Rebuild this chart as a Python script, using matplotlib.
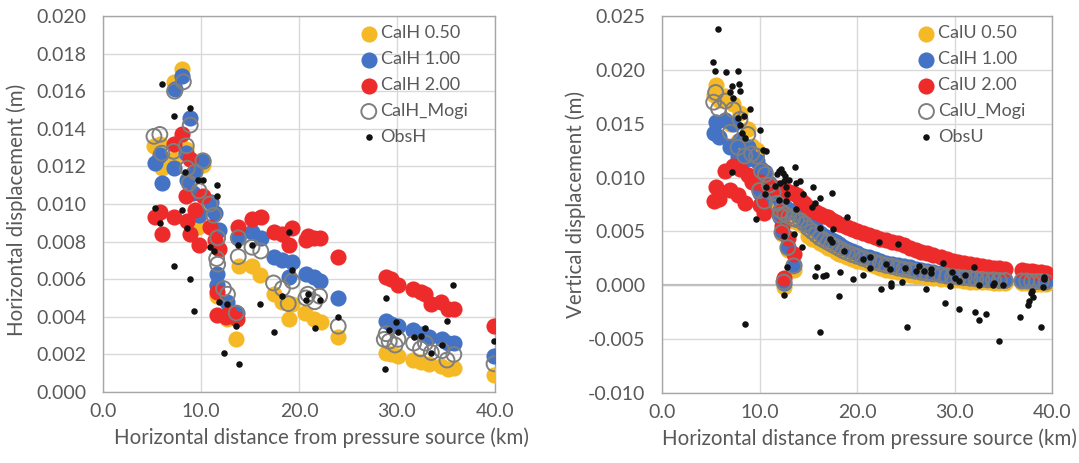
import numpy as np
import matplotlib
matplotlib.use("Agg")
import matplotlib.pyplot as plt

plt.rcParams['font.family'] = ['Lato', 'DejaVu Sans']

# ---- horizontal displacement (values in mm) ----
h050_x = [5.2, 5.8, 6.0, 7.2, 7.2, 8.1, 8.5, 9.7, 10.2, 10.7,
          11.6, 11.6, 12.7, 13.6, 13.9, 15.2, 16.0, 17.4, 18.3, 19.0,
          19.3, 20.6, 21.5, 22.2, 24.0, 28.9, 29.4, 30.1, 31.6, 32.4,
          33.3, 34.5, 35.2, 35.8, 39.9]
h050_y = [13.1, 13.2, 11.9, 12.4, 16.5, 17.2, 12.9, 8.8, 12.1, 9.8,
          5.7, 5.1, 3.9, 2.8, 6.7, 6.7, 6.2, 5.2, 4.8, 3.9,
          4.7, 4.2, 3.9, 3.7, 2.9, 2.1, 2.0, 1.9, 1.7, 1.6,
          1.5, 1.4, 1.2, 1.3, 0.9]

h100_x = [5.3, 5.8, 6.0, 7.2, 7.3, 8.1, 8.9, 8.5, 8.6, 9.2,
          9.3, 9.8, 10.2, 11.0, 11.4, 11.8, 11.6, 11.6, 12.7, 13.7,
          13.8, 15.2, 16.1, 17.4, 18.3, 19.3, 19.0, 20.7, 21.5, 22.1,
          24.0, 28.9, 29.4, 30.1, 31.6, 32.5, 33.3, 34.6, 35.2, 35.8,
          39.9]
h100_y = [12.2, 12.6, 11.1, 11.9, 16.1, 16.8, 14.6, 12.7, 11.3, 10.6,
          11.7, 9.4, 12.3, 10.1, 9.5, 8.6, 6.3, 5.7, 4.8, 4.2,
          8.2, 8.5, 8.2, 7.2, 7.0, 6.9, 6.1, 6.3, 6.1, 5.9,
          5.0, 3.8, 3.6, 3.5, 3.3, 3.1, 2.9, 2.8, 2.6, 2.6,
          1.9]

h200_x = [5.3, 5.8, 6.0, 7.2, 7.2, 8.1, 8.5, 8.6, 8.9, 8.9,
          9.4, 9.8, 10.2, 10.9, 11.4, 11.8, 11.6, 11.6, 12.5, 12.9,
          13.7, 13.8, 15.2, 16.1, 17.4, 18.3, 19.0, 19.3, 20.7, 20.9,
          21.5, 22.1, 24.0, 28.9, 29.4, 30.1, 31.6, 32.4, 32.9, 33.5,
          34.5, 35.2, 35.8, 39.9]
h200_y = [9.3, 9.6, 8.4, 9.3, 13.2, 13.7, 10.4, 9.1, 8.4, 12.4,
          9.7, 7.8, 10.4, 8.8, 8.1, 7.6, 5.3, 4.1, 4.0, 4.2,
          3.9, 8.8, 9.2, 9.3, 8.5, 8.4, 7.8, 8.7, 8.1, 8.3,
          8.2, 8.2, 7.2, 6.1, 6.0, 5.7, 5.5, 5.3, 5.2, 4.7,
          4.8, 4.4, 4.4, 3.5]

hmogi_x = [5.2, 5.8, 6.0, 7.3, 7.2, 8.2, 8.9, 8.5, 8.6, 8.8,
           9.4, 9.8, 10.2, 10.9, 11.3, 11.7, 11.6, 11.7, 12.3, 12.7,
           13.6, 13.8, 13.8, 15.2, 16.1, 17.4, 18.3, 18.9, 19.3, 20.7,
           20.9, 21.6, 22.1, 24.0, 28.9, 28.7, 29.2, 29.8, 30.1, 31.7,
           32.4, 32.9, 33.5, 34.6, 35.1, 35.8, 39.9]
hmogi_y = [13.6, 13.7, 12.7, 16.0, 12.8, 16.5, 14.2, 13.1, 11.9, 11.1,
           11.7, 10.7, 12.3, 10.0, 9.4, 8.2, 7.1, 6.8, 5.5, 5.2,
           4.2, 8.2, 7.2, 7.7, 7.5, 5.8, 5.5, 4.7, 5.9, 5.0,
           5.2, 4.8, 5.1, 3.5, 3.1, 2.8, 2.7, 2.5, 2.8, 2.6,
           2.3, 2.6, 2.1, 2.2, 1.7, 2.0, 1.5]

obsh_x = [6.0, 7.2, 8.9, 8.4, 9.7, 10.2, 11.6, 11.6, 5.3, 5.8,
          8.1, 8.6, 7.2, 8.9, 9.3, 10.9, 11.3, 11.8, 12.7, 12.3,
          13.6, 13.9, 13.8, 15.2, 16.0, 17.4, 18.3, 19.0, 19.3, 20.7,
          20.9, 21.6, 22.1, 24.0, 28.9, 28.8, 29.2, 29.9, 30.1, 31.7,
          32.4, 32.9, 33.5, 34.6, 35.1, 35.7, 39.9]
obsh_y = [16.4, 14.7, 15.1, 11.7, 11.3, 11.3, 11.0, 10.4, 9.8, 9.0,
          9.7, 8.7, 6.7, 6.0, 4.3, 7.7, 7.5, 4.8, 4.7, 2.1,
          3.5, 1.5, 7.8, 7.8, 4.7, 3.2, 5.1, 8.5, 6.5, 4.9,
          5.2, 3.4, 4.9, 4.0, 5.0, 1.2, 3.3, 3.7, 3.2, 2.9,
          3.0, 3.4, 2.1, 2.5, 3.8, 5.7, 2.7]

# ---- vertical displacement (values in mm) ----
u_dist = [5.3, 5.5, 5.8, 6.5, 7.0, 7.3, 7.8, 8.0, 8.5, 8.8, 9.2, 9.7, 10.0, 10.5,
          12.1, 12.3, 12.9, 13.5, 12.5,
          10.2, 10.6, 11.0, 11.4, 11.8, 12.2, 12.6, 13.0, 13.4, 13.8,
          14.2, 14.6, 15.0, 15.4, 15.8, 16.2, 16.6, 17.0, 17.4, 17.8,
          18.2, 18.6, 19.0, 19.5, 20.0, 20.6, 21.2, 21.8, 22.4, 23.0,
          23.6, 24.2, 24.8, 25.4, 26.0, 26.6, 27.2, 27.8, 28.6, 29.2,
          29.8, 30.4, 31.0, 31.6, 32.2, 32.8, 33.4, 34.0, 34.6, 35.2,
          36.9, 37.4, 37.9, 38.4, 38.9, 39.4]
u050 = [17.7, 18.6, 17.2, 17.6, 15.0, 16.8, 13.4, 16.0, 12.6, 14.5, 12.9, 12.6, 9.4, 8.0,
        6.4, 4.8, 3.3, 1.4, -0.2,
        10.0, 9.6, 9.0, 8.2, 7.4, 6.8, 6.4, 6.2, 6.0, 5.9,
        5.7, 5.5, 4.6, 4.3, 4.2, 3.9, 3.7, 3.5, 3.35, 3.1,
        2.95, 2.8, 2.6, 2.45, 2.3, 2.15, 1.95, 1.75, 1.6, 1.45,
        1.35, 1.2, 1.1, 1.0, 0.9, 0.85, 0.75, 0.7, 0.6, 0.55,
        0.5, 0.45, 0.4, 0.35, 0.35, 0.3, 0.3, 0.25, 0.25, 0.2,
        0.2, 0.2, 0.15, 0.15, 0.15, 0.15]
u100 = [14.1, 15.2, 13.8, 15.3, 12.8, 15.0, 11.9, 13.5, 11.6, 12.8, 11.8, 11.5, 8.6, 7.6,
        6.3, 5.0, 3.6, 1.9, 0.2,
        10.8, 10.5, 9.5, 8.8, 8.3, 7.7, 7.3, 7.0, 6.8, 6.6,
        6.4, 6.1, 5.7, 5.4, 5.2, 4.9, 4.6, 4.4, 4.2, 4.0,
        3.8, 3.6, 3.4, 3.2, 3.0, 2.7, 2.6, 2.4, 2.3, 2.1,
        2.0, 1.85, 1.75, 1.7, 1.55, 1.45, 1.35, 1.25, 1.1, 1.0,
        0.95, 0.85, 0.8, 0.75, 0.7, 0.65, 0.6, 0.55, 0.5, 0.5,
        0.45, 0.45, 0.4, 0.4, 0.4, 0.4]
u200 = [7.8, 9.1, 8.0, 10.6, 8.8, 11.1, 8.4, 10.8, 7.6, 10.2, 9.6, 9.6, 7.5, 6.7,
        7.0, 5.5, 4.4, 2.9, 0.7,
        9.6, 9.3, 9.2, 9.0, 9.0, 8.9, 8.8, 8.7, 8.6, 8.4,
        8.0, 7.6, 7.3, 7.0, 6.8, 6.6, 6.4, 6.3, 6.1, 5.9,
        5.7, 5.6, 5.4, 5.2, 5.0, 4.9, 4.7, 4.5, 4.3, 4.2,
        4.0, 3.9, 3.7, 3.5, 3.3, 3.1, 3.0, 2.8, 2.6, 2.4,
        2.3, 2.2, 2.1, 2.0, 1.9, 1.8, 1.7, 1.65, 1.6, 1.5,
        1.4, 1.35, 1.3, 1.25, 1.2, 1.15]
umogi = [17.0, 17.9, 16.4, 17.1, 14.2, 16.3, 12.8, 15.4, 12.0, 14.0, 12.2, 12.0, 8.8, 7.8,
         6.5, 4.9, 3.5, 1.8, 0.3,
         10.6, 10.3, 9.3, 8.6, 7.6, 6.9, 6.6, 6.4, 6.2, 6.1,
         6.0, 5.7, 5.3, 5.0, 4.7, 4.4, 4.2, 4.0, 3.8, 3.6,
         3.4, 3.2, 3.05, 2.85, 2.7, 2.5, 2.3, 2.15, 2.0, 1.85,
         1.75, 1.6, 1.5, 1.4, 1.3, 1.2, 1.1, 1.05, 0.95, 0.85,
         0.8, 0.75, 0.7, 0.65, 0.6, 0.55, 0.5, 0.5, 0.45, 0.45,
         0.4, 0.4, 0.35, 0.35, 0.35, 0.3]

obsu_x = [5.2, 5.45, 5.7, 6.6, 7.0, 7.2, 7.3, 7.8, 7.9, 8.0,
          7.8, 8.4, 9.0, 8.0, 8.2, 8.5, 10.1, 10.4, 10.7, 7.2,
          9.6, 8.5,
          10.6, 10.7, 11.6, 11.8, 12.0, 12.2, 12.4, 12.6, 12.1, 12.5,
          12.7, 12.8, 13.0, 13.6, 13.7, 14.2, 13.7, 12.0, 12.7, 12.5,
          13.5, 12.8, 12.5, 14.4, 14.5,
          15.5, 15.4, 15.7, 16.2, 17.4, 16.2, 17.5, 17.2, 17.4, 15.9,
          15.7, 16.5, 16.8, 16.2, 18.2, 18.3, 19.0, 18.7, 19.6, 20.6,
          20.6, 21.3, 21.3, 22.3, 22.5, 23.0, 23.4, 23.5, 23.5, 24.2,
          24.6, 24.9, 25.1,
          26.0, 26.4, 26.9, 27.1, 27.6, 27.6, 28.8, 29.0, 29.5, 29.7,
          30.1, 30.5, 30.5, 31.1, 32.0, 32.1, 32.5, 32.5, 33.2, 33.9,
          34.1, 34.6, 35.0, 36.7, 37.5, 37.6, 37.8, 37.9, 38.0, 38.9,
          39.1, 39.2, 39.2]
obsu_y = [20.7, 19.9, 23.8, 19.8, 17.9, 18.5, 17.4, 19.9, 18.7, 18.0,
          15.5, 15.7, 16.4, 14.9, 14.1, 13.7, 14.4, 12.6, 12.5, 10.5,
          6.2, -3.6,
          8.5, 9.1, 9.2, 10.3, 10.6, 10.8, 10.4, 10.1, 9.5, 9.7,
          9.1, 8.5, 9.8, 11.0, 9.5, 9.7, 7.1, 7.9, 7.8, 4.6,
          4.8, 1.7, -0.9, 3.6, 8.5,
          9.1, 7.3, 7.6, 8.1, 8.6, 5.3, 5.2, 4.3, 4.0, 1.7,
          0.9, 0.9, 1.0, -4.3, -1.0, 1.2, 6.3, 3.2, 0.6, 2.4,
          1.0, 2.6, 1.6, 4.0, -0.3, 2.0, 1.5, -0.1, 0.2, 3.8,
          0.3, 1.6, -3.9,
          1.3, 1.8, 1.3, -0.3, 1.5, 1.1, 2.1, -1.6, -0.1, 1.2,
          0.7, 0.4, -2.2, 1.0, 1.7, -2.5, -3.2, 0.0, -2.7, 0.0,
          0.2, -5.2, 0.0, -2.9, -1.8, -1.5, -0.7, -0.5, -1.1, -3.9,
          -0.2, 0.6, 0.8]

YEL = '#F6B926'
BLU = '#4472C4'
RED = '#EE2B2B'
GRY = '#7F7F7F'
TXT = '#595959'
MS = 135     # filled marker area
OBS = 22


def mm(v):
    return np.array(v) / 1000.0


def style_axes(ax, ylim, yticks, yfmt):
    ax.set_xlim(0, 40)
    ax.set_ylim(*ylim)
    ax.set_xticks(np.arange(0, 41, 10))
    ax.set_xticklabels(['%.1f' % t for t in np.arange(0, 41, 10)])
    ax.set_yticks(yticks)
    ax.set_yticklabels([yfmt % t for t in yticks])
    ax.grid(True, color='#d9d9d9', lw=1.0)
    ax.set_axisbelow(True)
    ax.tick_params(length=0, labelsize=14, labelcolor=TXT)
    ax.tick_params(axis='x', pad=8)
    ax.tick_params(axis='y', pad=12)
    for s in ax.spines.values():
        s.set_color('#a6a6a6')
        s.set_linewidth(1.0)
    ax.set_xlabel('Horizontal distance from pressure source (km)',
                  fontsize=14.8, color=TXT)


def add_legend(ax, labels):
    ax.legend(labels, loc='upper left', bbox_to_anchor=(0.655, 0.975),
              frameon=False, fontsize=13, labelcolor=TXT, scatterpoints=1,
              handlelength=1.0, handletextpad=0.15, labelspacing=0.55,
              borderpad=0, borderaxespad=0)


fig = plt.figure(figsize=(10.79, 4.63), dpi=100)

# left: horizontal displacement
ax1 = fig.add_axes([103 / 1079, 71 / 463, 392 / 1079, 376 / 463])
ax1.scatter(h050_x, mm(h050_y), s=MS, color=YEL, lw=0, zorder=3)
ax1.scatter(h100_x, mm(h100_y), s=MS, color=BLU, lw=0, zorder=3)
ax1.scatter(h200_x, mm(h200_y), s=MS, color=RED, lw=0, zorder=3)
ax1.scatter(hmogi_x, mm(hmogi_y), s=MS * 0.85, facecolors='none',
            edgecolors=GRY, lw=1.4, zorder=4)
ax1.scatter(obsh_x, mm(obsh_y), s=OBS, color='#111111', lw=0, zorder=5)
style_axes(ax1, (0, 0.020), np.arange(0, 0.0201, 0.002), '%.3f')
ax1.set_ylabel('Horizontal displacement (m)', fontsize=14.8, color=TXT)
ax1.xaxis.set_label_coords(0.556, -0.095)
ax1.yaxis.set_label_coords(-0.195, 0.485)
add_legend(ax1, ['CalH 0.50', 'CalH 1.00', 'CalH 2.00', 'CalH_Mogi', 'ObsH'])

# right: vertical displacement
ax2 = fig.add_axes([662 / 1079, 70 / 463, 390 / 1079, 377 / 463])
ax2.scatter(u_dist, mm(u050), s=MS, color=YEL, lw=0, zorder=3)
ax2.scatter(u_dist, mm(u100), s=MS, color=BLU, lw=0, zorder=3)
ax2.scatter(u_dist, mm(u200), s=MS, color=RED, lw=0, zorder=3)
ax2.scatter(u_dist, mm(umogi), s=MS * 0.85, facecolors='none',
            edgecolors=GRY, lw=1.4, zorder=4)
ax2.scatter(obsu_x, mm(obsu_y), s=OBS, color='#111111', lw=0, zorder=5)
style_axes(ax2, (-0.010, 0.025), np.arange(-0.010, 0.0251, 0.005), '%.3f')
ax2.axhline(0, color='#bfbfbf', lw=1.6, zorder=1)
ax2.set_ylabel('Vertical displacement (m)', fontsize=14.8, color=TXT)
ax2.xaxis.set_label_coords(0.533, -0.093)
ax2.yaxis.set_label_coords(-0.195, 0.5)
add_legend(ax2, ['CalU 0.50', 'CalH 1.00', 'CalU 2.00', 'CalU_Mogi', 'ObsU'])

fig.savefig('out.png', dpi=100)
